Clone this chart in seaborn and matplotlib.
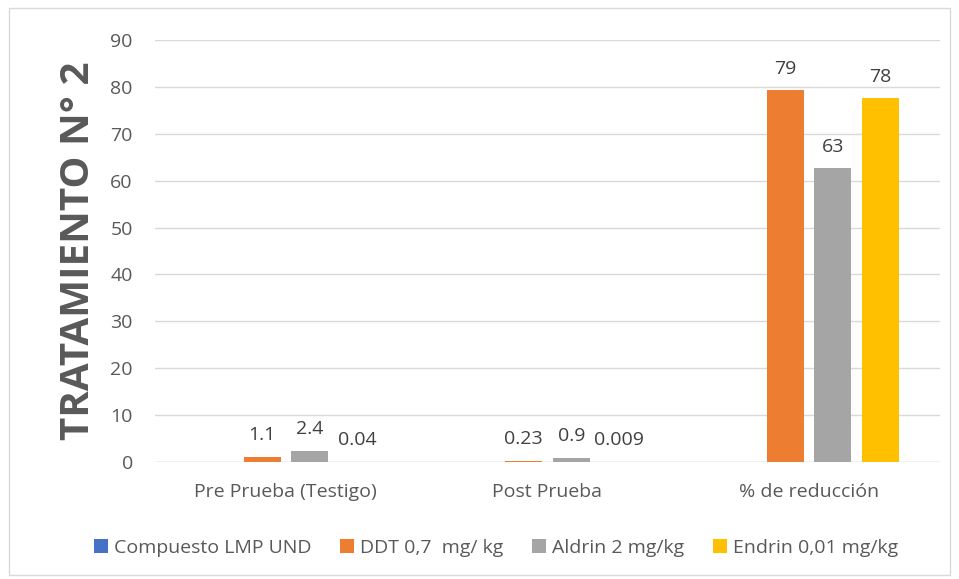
import matplotlib
matplotlib.use("Agg")
import matplotlib.pyplot as plt
import seaborn as sns
import pandas as pd
from matplotlib.patches import Rectangle

categories = ["Pre Prueba (Testigo)", "Post Prueba", "% de reducción"]
series = ["Compuesto LMP UND", "DDT 0,7  mg/ kg", "Aldrin 2 mg/kg", "Endrin 0,01 mg/kg"]
compuesto = [0, 0, 0]
ddt = [1.1, 0.23, 79.3]
aldrin = [2.4, 0.9, 62.7]
endrin = [0.04, 0.009, 77.6]
ddt_labels = ["1.1", "0.23", "79"]
aldrin_labels = ["2.4", "0.9", "63"]
endrin_labels = ["0.04", "0.009", "78"]
colors = ["#4472C4", "#ED7D31", "#A5A5A5", "#FFC000"]
yticks = [0, 10, 20, 30, 40, 50, 60, 70, 80, 90]

rows = []
for name, vals in zip(series, [compuesto, ddt, aldrin, endrin]):
    for c, v in zip(categories, vals):
        rows.append({"cat": c, "serie": name, "val": v})
df = pd.DataFrame(rows)

sns.set_theme(style="white")
plt.rcParams['font.family'] = ['Open Sans', 'DejaVu Sans']
txt = "#595959"
fs = 14

fig = plt.figure(figsize=(9.59, 5.79), dpi=100)
ax = fig.add_axes([155/959, 1-462/579, 785/959, 422/579])

sns.barplot(data=df, x="cat", y="val", hue="serie", order=categories,
            hue_order=series, palette=colors, width=0.726, gap=0.22,
            saturation=1, ax=ax, legend=True, edgecolor="none")

ax.set_ylim(0, 90)
ax.set_xlim(-0.5, 2.5)
ax.set_yticks(yticks)
ax.set_yticklabels([str(t) for t in yticks], fontsize=fs, color=txt)
ax.tick_params(axis="x", labelsize=fs, colors=txt, length=0, pad=15)
ax.tick_params(axis="y", length=0, pad=16)
for t in ax.get_xticklabels():
    t.set_color(txt)
ax.yaxis.grid(True, color="#D9D9D9", linewidth=1)
ax.set_axisbelow(True)
for s in ax.spines.values():
    s.set_visible(False)
ax.axhline(0, color="#D9D9D9", linewidth=1, zorder=0)
ax.set_xlabel("")
ax.set_ylabel("TRATAMIENTO N° 2", fontsize=29, fontweight="bold", color=txt, labelpad=9)

for cont, labs in zip(ax.containers[1:], [ddt_labels, aldrin_labels, endrin_labels]):
    ax.bar_label(cont, labels=labs, padding=9, fontsize=fs, color="#404040")

h, l = ax.get_legend_handles_labels()
ax.legend(h, l, loc="center", bbox_to_anchor=(496/959, 1-548/579),
          bbox_transform=fig.transFigure, ncol=4,
          frameon=False, fontsize=fs, handlelength=0.7, handleheight=0.7,
          handletextpad=0.3, columnspacing=1.5, labelcolor=txt)

fig.patches.append(Rectangle((9/959, 4/579), 941/959, 567/579, transform=fig.transFigure,
                             fill=False, edgecolor="#D9D9D9", linewidth=1))
fig.savefig("out.png", dpi=100)
